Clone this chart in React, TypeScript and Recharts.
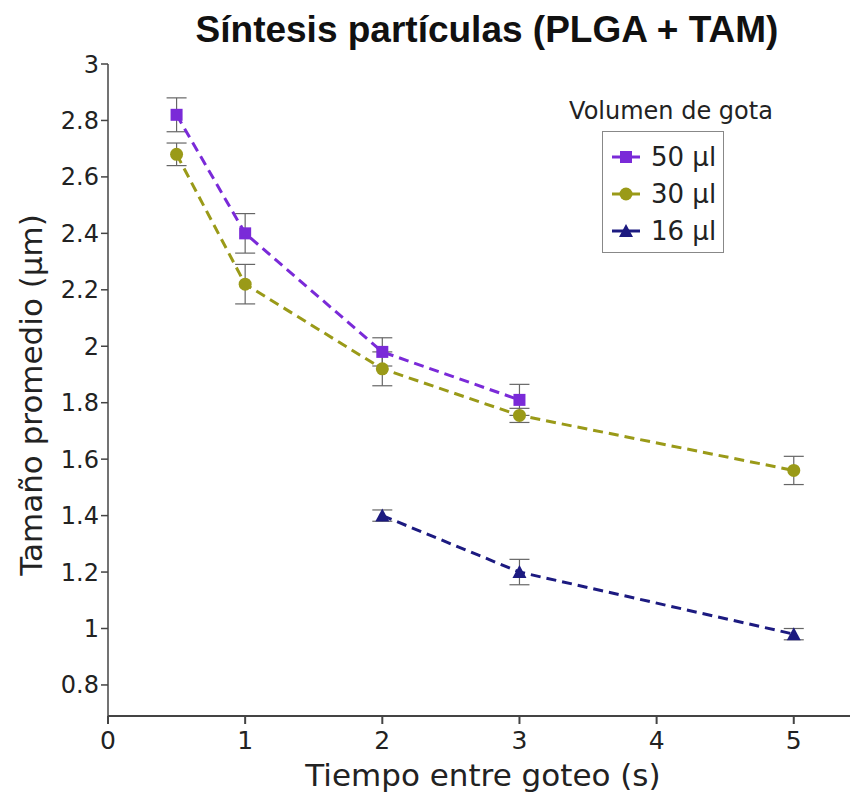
import React from 'react';
import { LineChart, Line, XAxis, YAxis, ErrorBar, Label } from 'recharts';

// tiempo entre goteo (s) y tamaño promedio (µm) por volumen de gota
const serie50 = [
  { x: 0.5, y: 2.82, err: 0.06 },
  { x: 1, y: 2.4, err: 0.07 },
  { x: 2, y: 1.98, err: 0.05 },
  { x: 3, y: 1.81, err: 0.055 },
];
const serie30 = [
  { x: 0.5, y: 2.68, err: 0.04 },
  { x: 1, y: 2.22, err: 0.07 },
  { x: 2, y: 1.92, err: 0.06 },
  { x: 3, y: 1.755, err: 0.025 },
  { x: 5, y: 1.56, err: 0.05 },
];
const serie16 = [
  { x: 2, y: 1.4, err: 0.02 },
  { x: 3, y: 1.2, err: 0.045 },
  { x: 5, y: 0.98, err: 0.02 },
];
const xTicks = [0, 1, 2, 3, 4, 5];
const yTicks = [0.8, 1, 1.2, 1.4, 1.6, 1.8, 2, 2.2, 2.4, 2.6, 2.8, 3];

const series = [
  { name: '50 µl', data: serie50, color: '#7a2ad8', shape: 'square' },
  { name: '30 µl', data: serie30, color: '#9a9a18', shape: 'circle' },
  { name: '16 µl', data: serie16, color: '#1c1a80', shape: 'triangle' },
];

const FONT = '"DejaVu Sans", Verdana, sans-serif';

const Marker = ({ cx, cy, color, shape }: any) => {
  if (cx == null || cy == null) return null;
  if (shape === 'square') return <rect x={cx - 6} y={cy - 6} width={12} height={12} fill={color} />;
  if (shape === 'circle') return <circle cx={cx} cy={cy} r={6.5} fill={color} />;
  return <polygon points={`${cx},${cy - 7} ${cx + 7},${cy + 6} ${cx - 7},${cy + 6}`} fill={color} />;
};

const LegendBox = () => (
  <div style={{ position: 'absolute', left: 556, top: 96, fontFamily: FONT, color: '#222', width: 230, textAlign: 'center' }}>
    <div style={{ fontSize: 24, lineHeight: '30px' }}>Volumen de gota</div>
    <div
      style={{
        margin: '5px 0 0 46px',
        width: 122,
        height: 122,
        border: '1.5px solid #888',
        boxSizing: 'border-box',
        padding: '6px 0 0 8px',
        textAlign: 'left',
      }}
    >
      {series.map((s) => (
        <div key={s.name} style={{ display: 'flex', alignItems: 'center', height: 37, fontSize: 26 }}>
          <svg width={30} height={16} style={{ marginRight: 10 }}>
            <line x1={1} y1={8} x2={29} y2={8} stroke={s.color} strokeWidth={3} />
            <Marker cx={15} cy={8} color={s.color} shape={s.shape} />
          </svg>
          <span>{s.name}</span>
        </div>
      ))}
    </div>
  </div>
);

export default function App() {
  return (
    <div style={{ position: 'absolute', left: 0, top: 0, width: 856, height: 799, background: '#fff' }}>
      <div
        style={{
          position: 'absolute',
          left: 487,
          top: 8,
          transform: 'translateX(-50%)',
          whiteSpace: 'nowrap',
          fontFamily: '"Liberation Sans", Arial, sans-serif',
          fontWeight: 'bold',
          fontSize: 37,
          lineHeight: '44px',
          color: '#111',
        }}
      >
        Síntesis partículas (PLGA + TAM)
      </div>
      <LineChart width={856} height={799} margin={{ top: 64, right: 6, bottom: 0, left: 48 }}>
        <XAxis
          type="number"
          dataKey="x"
          domain={[0, 5.41]}
          ticks={xTicks}
          allowDataOverflow
          height={83}
          stroke="#444"
          strokeWidth={2}
          tickSize={8}
          tickMargin={7}
          tick={{ fontSize: 25, fill: '#222', fontFamily: FONT }}
        >
          <Label
            content={() => (
              <text x={483} y={786} textAnchor="middle" fontSize={31} fill="#222" fontFamily={FONT}>
                Tiempo entre goteo (s)
              </text>
            )}
          />
        </XAxis>
        <YAxis
          type="number"
          domain={[0.69, 3]}
          ticks={yTicks}
          allowDataOverflow
          width={60}
          stroke="#444"
          strokeWidth={1.5}
          tickSize={7}
          tickMargin={2}
          tick={{ fontSize: 24, fill: '#222', fontFamily: FONT }}
        >
          <Label
            content={() => (
              <text
                x={0}
                y={0}
                transform="translate(42, 395) rotate(-90)"
                textAnchor="middle"
                fontSize={31}
                fill="#222"
                fontFamily={FONT}
              >
                Tamaño promedio (µm)
              </text>
            )}
          />
        </YAxis>
        {series.map((s) => (
          <Line
            key={s.name}
            name={s.name}
            data={s.data}
            dataKey="y"
            stroke={s.color}
            strokeWidth={3}
            strokeDasharray="10 6"
            isAnimationActive={false}
            dot={(p: any) => <Marker key={`${s.name}-${p.index}`} cx={p.cx} cy={p.cy} color={s.color} shape={s.shape} />}
            activeDot={false}
          >
            <ErrorBar dataKey="err" direction="y" width={10} stroke="#666" strokeWidth={1.2} />
          </Line>
        ))}
      </LineChart>
      <LegendBox />
    </div>
  );
}
